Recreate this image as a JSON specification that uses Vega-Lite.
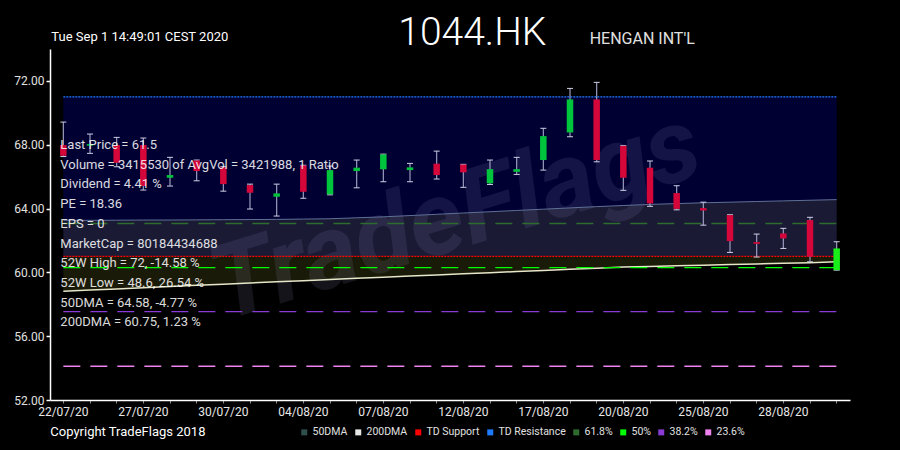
{
  "$schema": "https://vega.github.io/schema/vega-lite/v6.json",
  "width": 800,
  "height": 351,
  "autosize": {"type": "none"},
  "padding": {"left": 50, "top": 49, "right": 50, "bottom": 50},
  "background": "#000000",
  "config": {
    "view": {"stroke": null},
    "font": "Roboto",
    "text": {"font": "Roboto"},
    "axis": {"labelOverlap": false, "labelBound": false, "labelLineHeight": 12}
  },
  "datasets": {
    "candles": [
      {"d": "22/07/20", "o": 67.98, "h": 69.42, "l": 67.26, "c": 67.31, "dma50": 63.26, "dma200": 58.82},
      {"d": "23/07/20", "o": 67.94, "h": 68.67, "l": 67.46, "c": 68.04, "dma50": 63.26, "dma200": 58.89},
      {"d": "24/07/20", "o": 67.98, "h": 68.46, "l": 66.62, "c": 66.87, "dma50": 63.27, "dma200": 58.96},
      {"d": "27/07/20", "o": 67.98, "h": 68.42, "l": 65.16, "c": 65.41, "dma50": 63.28, "dma200": 59.04},
      {"d": "28/07/20", "o": 65.93, "h": 67.21, "l": 65.41, "c": 66.10, "dma50": 63.28, "dma200": 59.11},
      {"d": "29/07/20", "o": 67.01, "h": 67.04, "l": 65.74, "c": 66.35, "dma50": 63.29, "dma200": 59.19},
      {"d": "30/07/20", "o": 66.58, "h": 66.62, "l": 65.09, "c": 65.53, "dma50": 63.30, "dma200": 59.26},
      {"d": "31/07/20", "o": 65.47, "h": 65.53, "l": 63.97, "c": 64.99, "dma50": 63.31, "dma200": 59.33},
      {"d": "03/08/20", "o": 64.74, "h": 65.53, "l": 63.53, "c": 64.95, "dma50": 63.32, "dma200": 59.41},
      {"d": "04/08/20", "o": 66.70, "h": 66.72, "l": 64.64, "c": 65.05, "dma50": 63.34, "dma200": 59.48},
      {"d": "05/08/20", "o": 64.89, "h": 66.66, "l": 64.86, "c": 66.41, "dma50": 63.36, "dma200": 59.56},
      {"d": "06/08/20", "o": 66.35, "h": 67.04, "l": 65.30, "c": 66.56, "dma50": 63.42, "dma200": 59.63},
      {"d": "07/08/20", "o": 66.46, "h": 67.41, "l": 65.68, "c": 67.39, "dma50": 63.48, "dma200": 59.70},
      {"d": "10/08/20", "o": 66.41, "h": 66.83, "l": 65.68, "c": 66.58, "dma50": 63.56, "dma200": 59.77},
      {"d": "11/08/20", "o": 66.81, "h": 67.60, "l": 65.85, "c": 66.10, "dma50": 63.64, "dma200": 59.84},
      {"d": "12/08/20", "o": 66.76, "h": 66.77, "l": 65.33, "c": 66.27, "dma50": 63.72, "dma200": 59.91},
      {"d": "13/08/20", "o": 65.58, "h": 67.04, "l": 65.51, "c": 66.47, "dma50": 63.80, "dma200": 59.98},
      {"d": "14/08/20", "o": 66.30, "h": 67.21, "l": 66.14, "c": 66.47, "dma50": 63.88, "dma200": 60.05},
      {"d": "17/08/20", "o": 67.04, "h": 69.03, "l": 66.41, "c": 68.54, "dma50": 63.96, "dma200": 60.12},
      {"d": "18/08/20", "o": 68.77, "h": 71.53, "l": 68.50, "c": 70.84, "dma50": 64.04, "dma200": 60.19},
      {"d": "19/08/20", "o": 70.84, "h": 71.91, "l": 66.93, "c": 67.04, "dma50": 64.12, "dma200": 60.26},
      {"d": "20/08/20", "o": 67.93, "h": 67.94, "l": 65.14, "c": 65.93, "dma50": 64.19, "dma200": 60.33},
      {"d": "21/08/20", "o": 66.56, "h": 66.98, "l": 64.14, "c": 64.32, "dma50": 64.26, "dma200": 60.37},
      {"d": "24/08/20", "o": 64.97, "h": 65.43, "l": 63.92, "c": 63.98, "dma50": 64.31, "dma200": 60.41},
      {"d": "25/08/20", "o": 64.03, "h": 64.40, "l": 62.96, "c": 63.88, "dma50": 64.36, "dma200": 60.45},
      {"d": "26/08/20", "o": 63.59, "h": 63.61, "l": 61.25, "c": 61.96, "dma50": 64.40, "dma200": 60.49},
      {"d": "27/08/20", "o": 61.90, "h": 62.40, "l": 60.96, "c": 61.79, "dma50": 64.44, "dma200": 60.53},
      {"d": "28/08/20", "o": 62.44, "h": 62.76, "l": 61.50, "c": 62.13, "dma50": 64.48, "dma200": 60.57},
      {"d": "31/08/20", "o": 63.28, "h": 63.45, "l": 60.66, "c": 60.98, "dma50": 64.52, "dma200": 60.61},
      {"d": "01/09/20", "o": 60.14, "h": 61.92, "l": 60.14, "c": 61.50, "dma50": 64.56, "dma200": 60.66}
    ],
    "levels": [
      {"s": "TD Resistance", "d": "22/07/20", "v": 71.0},
      {"s": "TD Resistance", "d": "01/09/20", "v": 71.0},
      {"s": "TD Support", "d": "22/07/20", "v": 61.0},
      {"s": "TD Support", "d": "01/09/20", "v": 61.0},
      {"s": "61.8%", "d": "22/07/20", "v": 63.06},
      {"s": "61.8%", "d": "01/09/20", "v": 63.06},
      {"s": "50%", "d": "22/07/20", "v": 60.3},
      {"s": "50%", "d": "01/09/20", "v": 60.3},
      {"s": "38.2%", "d": "22/07/20", "v": 57.54},
      {"s": "38.2%", "d": "01/09/20", "v": 57.54},
      {"s": "23.6%", "d": "22/07/20", "v": 54.12},
      {"s": "23.6%", "d": "01/09/20", "v": 54.12}
    ]
  },
  "layer": [
    {
      "data": {"name": "candles"},
      "mark": {"type": "area", "color": "#000033"},
      "encoding": {
        "x": {
          "field": "d", "type": "ordinal", "sort": null, "title": null,
          "scale": {"paddingInner": 0, "paddingOuter": 0, "domain": ["22/07/20","23/07/20","24/07/20","27/07/20","28/07/20","29/07/20","30/07/20","31/07/20","03/08/20","04/08/20","05/08/20","06/08/20","07/08/20","10/08/20","11/08/20","12/08/20","13/08/20","14/08/20","17/08/20","18/08/20","19/08/20","20/08/20","21/08/20","24/08/20","25/08/20","26/08/20","27/08/20","28/08/20","31/08/20","01/09/20"]},
          "axis": {
            "labelAngle": 0, "labelColor": "#e8e8e8", "labelFontSize": 12, "labelPadding": 3,
            "domainColor": "#ffffff", "domainWidth": 1.5, "tickColor": "#8a8a8a", "tickSize": 3,
            "labelOverlap": false, "zindex": 1,
            "labelExpr": "indexof(['22/07/20','27/07/20','30/07/20','04/08/20','07/08/20','12/08/20','17/08/20','20/08/20','25/08/20','28/08/20'], datum.value) >= 0 ? datum.value : ''"
          }
        },
        "y": {
          "datum": 71, "type": "quantitative", "title": null,
          "scale": {"domain": [52, 74], "nice": false, "zero": false},
          "axis": {
            "title": null,
            "values": [52,53,54,55,56,57,58,59,60,61,62,63,64,65,66,67,68,69,70,71,72,73,74],
            "labelExpr": "datum.value % 2 === 0 ? format(datum.value, '.2f') : ''",
            "labelOverlap": false, "zindex": 1, "labelBaseline": "middle",
            "labelColor": "#e0e0e0", "labelFontSize": 12, "labelPadding": 2,
            "domainColor": "#ffffff", "domainWidth": 1.5, "grid": false,
            "tickColor": {"condition": {"test": "datum.value % 2 !== 0", "value": "#ff0000"}, "value": "#ffffff"},
            "tickSize": 4, "tickWidth": 1.5
          }
        },
        "y2": {"datum": 61}
      }
    },
    {
      "data": {"name": "candles"},
      "mark": {"type": "area", "color": "#d2d24a", "opacity": 0.12},
      "encoding": {
        "x": {"field": "d", "type": "ordinal"},
        "y": {"field": "dma200", "type": "quantitative"},
        "y2": {"field": "dma50"}
      }
    },
    {
      "data": {"values": [{"t": "TradeFlags"}]},
      "mark": {"type": "text", "fontSize": 104, "fontWeight": "bold", "fontStyle": "italic", "angle": -17, "align": "center", "baseline": "middle", "color": "#a0a0d0", "opacity": 0.12, "dx": -8},
      "encoding": {
        "text": {"field": "t"},
        "x": {"datum": "12/08/20", "type": "ordinal"},
        "y": {"datum": 63.59, "type": "quantitative"}
      }
    },
    {
      "data": {"name": "candles"},
      "mark": {"type": "line", "color": "#5f6f96", "strokeWidth": 1},
      "encoding": {
        "x": {"field": "d", "type": "ordinal"},
        "y": {"field": "dma50", "type": "quantitative"}
      }
    },
    {
      "data": {"name": "candles"},
      "mark": {"type": "line", "color": "#e6e6c8", "strokeWidth": 1.5},
      "encoding": {
        "x": {"field": "d", "type": "ordinal"},
        "y": {"field": "dma200", "type": "quantitative"}
      }
    },
    {
      "data": {"name": "levels"},
      "mark": {"type": "line", "strokeWidth": 1.4},
      "encoding": {
        "x": {"field": "d", "type": "ordinal"},
        "y": {"field": "v", "type": "quantitative"},
        "detail": {"field": "s"},
        "color": {
          "field": "s", "type": "nominal",
          "scale": {
            "domain": ["50DMA", "200DMA", "TD Support", "TD Resistance", "61.8%", "50%", "38.2%", "23.6%"],
            "range": ["#2f4f4f", "#e6e6e6", "#ff0000", "#1e7bff", "#2e6b2e", "#00ff00", "#8a3ad6", "#ee82ee"]
          },
          "legend": {
            "title": null, "orient": "none", "legendX": 249, "legendY": 378, "direction": "horizontal",
            "symbolType": "square", "symbolSize": 36, "symbolStrokeWidth": 0,
            "labelColor": "#e0e0e0", "labelFontSize": 10.5, "labelOffset": 3, "columnPadding": 5, "padding": 0,
            "encode": {"symbols": {"update": {"fill": {"scale": "color", "field": "value"}, "fillOpacity": {"value": 1}, "strokeWidth": {"value": 0}}}}
          }
        },
        "strokeDash": {
          "field": "s", "type": "nominal", "legend": null,
          "scale": {
            "domain": ["TD Support", "TD Resistance", "61.8%", "50%", "38.2%", "23.6%"],
            "range": [[2, 1], [2, 1], [17, 10], [17, 10], [17, 10], [17, 10]]
          }
        }
      }
    },
    {
      "data": {"name": "candles"},
      "mark": {"type": "rule", "color": "#9c9cc0", "strokeWidth": 1.2},
      "encoding": {
        "x": {"field": "d", "type": "ordinal"},
        "y": {"field": "l", "type": "quantitative"},
        "y2": {"field": "h"}
      }
    },
    {
      "data": {"name": "candles"},
      "mark": {"type": "tick", "color": "#d0d0e6", "size": 6, "thickness": 1, "opacity": 1},
      "encoding": {
        "x": {"field": "d", "type": "ordinal"},
        "y": {"field": "h", "type": "quantitative"}
      }
    },
    {
      "data": {"name": "candles"},
      "mark": {"type": "tick", "color": "#d0d0e6", "size": 6, "thickness": 1, "opacity": 1},
      "encoding": {
        "x": {"field": "d", "type": "ordinal"},
        "y": {"field": "l", "type": "quantitative"}
      }
    },
    {
      "data": {"name": "candles"},
      "mark": {"type": "bar", "size": 6.5},
      "encoding": {
        "x": {"field": "d", "type": "ordinal"},
        "y": {"field": "o", "type": "quantitative"},
        "y2": {"field": "c"},
        "color": {
          "condition": [
            {"test": "datum.d === '01/09/20'", "value": "#19f019"},
            {"test": "datum.c > datum.o", "value": "#00c43c"}
          ],
          "value": "#d4063a"
        }
      }
    },
    {
      "data": {"values": [{"t": ["Last Price = 61.5", "Volume = 3415530 of AvgVol = 3421988, 1 Ratio", "Dividend = 4.41 %", "PE = 18.36", "EPS = 0", "MarketCap = 80184434688", "52W High = 72, -14.58 %", "52W Low = 48.6, 26.54 %", "50DMA = 64.58, -4.77 %", "200DMA = 60.75, 1.23 %"]}]},
      "mark": {"type": "text", "align": "left", "baseline": "middle", "fontSize": 13, "lineHeight": 19.7, "color": "#ffffff", "opacity": 0.85, "dx": -3},
      "encoding": {
        "text": {"field": "t"},
        "x": {"datum": "22/07/20", "type": "ordinal"},
        "y": {"datum": 67.98, "type": "quantitative"}
      }
    },
    {
      "data": {"values": [{"t": "1044.HK"}]},
      "mark": {"type": "text", "align": "center", "baseline": "alphabetic", "fontSize": 39, "fontWeight": 300, "color": "#ffffff", "dx": 9},
      "encoding": {
        "text": {"field": "t"},
        "x": {"datum": "12/08/20", "type": "ordinal"},
        "y": {"datum": 74.25, "type": "quantitative"}
      }
    },
    {
      "data": {"values": [{"t": "HENGAN INT'L"}]},
      "mark": {"type": "text", "align": "left", "baseline": "alphabetic", "fontSize": 16, "color": "#e0e0e0", "dx": -7},
      "encoding": {
        "text": {"field": "t"},
        "x": {"datum": "19/08/20", "type": "ordinal"},
        "y": {"datum": 74.31, "type": "quantitative"}
      }
    },
    {
      "data": {"values": [{"t": "Tue Sep 1 14:49:01 CEST 2020"}]},
      "mark": {"type": "text", "align": "left", "baseline": "alphabetic", "fontSize": 13, "color": "#ffffff", "dx": -12},
      "encoding": {
        "text": {"field": "t"},
        "x": {"datum": "22/07/20", "type": "ordinal"},
        "y": {"datum": 74.5, "type": "quantitative"}
      }
    },
    {
      "data": {"values": [{"t": "Copyright TradeFlags 2018"}]},
      "mark": {"type": "text", "align": "left", "baseline": "middle", "fontSize": 13, "color": "#ffffff", "dx": -13},
      "encoding": {
        "text": {"field": "t"},
        "x": {"datum": "22/07/20", "type": "ordinal"},
        "y": {"datum": 50.0, "type": "quantitative"}
      }
    }
  ]
}
